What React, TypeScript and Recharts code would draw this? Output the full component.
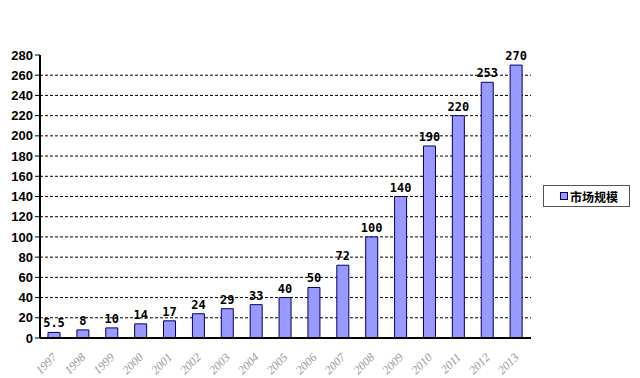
import { BarChart, Bar, XAxis, YAxis, CartesianGrid, LabelList } from "recharts"

const years = ["1997", "1998", "1999", "2000", "2001", "2002", "2003", "2004", "2005", "2006", "2007", "2008", "2009", "2010", "2011", "2012", "2013"]
const marketSize = [5.5, 8, 10, 14, 17, 24, 29, 33, 40, 50, 72, 100, 140, 190, 220, 253, 270]
const yTicks = [0, 20, 40, 60, 80, 100, 120, 140, 160, 180, 200, 220, 240, 260, 280]
const gridValues = [20, 40, 60, 80, 100, 120, 140, 160, 180, 200, 220, 240, 260]

const data = years.map((year, i) => ({ year, value: marketSize[i] }))

const renderXTick = (props: any) => {
  const { x, y, payload } = props
  const tx = x + 3
  const ty = y + 12
  return (
    <text
      key={payload.value}
      x={tx}
      y={ty}
      transform={`rotate(-45 ${tx} ${ty})`}
      textAnchor="end"
      fontSize={12}
      fontStyle="italic"
      fontFamily="'Liberation Serif', serif"
      fill="#999"
    >
      {payload.value}
    </text>
  )
}

export default function App() {
  return (
    <div style={{ position: "relative", width: 640, height: 378, background: "#fff" }}>
      <style>{"body{margin:0}"}</style>
      <BarChart width={640} height={378} data={data} margin={{ top: 55, right: 109, bottom: 0, left: 0 }}>
        <CartesianGrid vertical={false} horizontalValues={gridValues} stroke="#000" strokeDasharray="3 2" />
        <XAxis
          dataKey="year"
          height={40}
          axisLine={{ stroke: "#000", strokeWidth: 2 }}
          tickLine={false}
          tick={renderXTick}
          interval={0}
        />
        <YAxis
          domain={[0, 280]}
          ticks={yTicks}
          width={40}
          axisLine={{ stroke: "#000", strokeWidth: 2 }}
          tickLine={{ stroke: "#000" }}
          tickSize={5}
          tick={{ fill: "#000", fontSize: 13, fontWeight: 700, fontFamily: "'Liberation Sans', Arial, sans-serif" }}
          interval={0}
        />
        <Bar dataKey="value" fill="#9999ff" stroke="#000066" strokeWidth={1} barSize={12} isAnimationActive={false}>
          <LabelList
            dataKey="value"
            position="top"
            offset={5}
            fill="#000"
            fontSize={12}
            fontWeight={700}
            fontFamily="'DejaVu Sans Mono', monospace"
          />
        </Bar>
      </BarChart>
      <div
        style={{
          position: "absolute",
          left: 543,
          top: 185,
          width: 87,
          height: 22,
          border: "1px solid #555",
          boxSizing: "border-box",
          display: "flex",
          alignItems: "center",
          paddingLeft: 16,
          fontFamily: "'Noto Sans CJK SC', sans-serif",
          fontWeight: 700,
          fontSize: 12,
          color: "#000",
          background: "#fff",
        }}
      >
        <span style={{ width: 6, height: 6, background: "#9999ff", border: "1px solid #000066", marginRight: 2 }} />
        市场规模
      </div>
    </div>
  )
}
